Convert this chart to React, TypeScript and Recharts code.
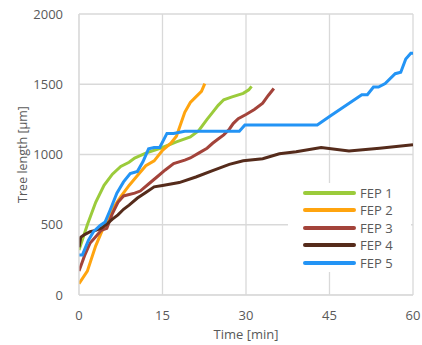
import React from "react"
import { LineChart, Line, XAxis, YAxis, CartesianGrid, Legend } from "recharts"

// time [min], tree length [µm]
const fep1: [number, number][] = [
  [0, 320], [1.5, 500], [3, 660], [4.5, 780], [6, 860], [7.5, 915], [9, 945], [10, 975],
  [12, 1010], [15, 1050], [17.5, 1090], [20, 1125], [21.5, 1170], [23, 1250], [24, 1300],
  [25, 1350], [26, 1390], [27.5, 1410], [29.5, 1435], [30.5, 1460], [31, 1485],
]
const fep2: [number, number][] = [
  [0, 80], [1.5, 170], [3, 350], [4.5, 490], [6, 610], [7.5, 700], [9, 780], [10.5, 850],
  [12, 920], [13.5, 955], [15, 1030], [16.5, 1080], [17.5, 1130], [18.3, 1220], [19, 1300],
  [20, 1370], [21, 1410], [22, 1450], [22.6, 1505],
]
const fep3: [number, number][] = [
  [0, 170], [1, 280], [2, 370], [3, 415], [4, 460], [5, 475], [6, 580], [7, 660], [8, 705],
  [10, 725], [11, 740], [12.5, 790], [14, 840], [15.5, 890], [17, 935], [19, 960], [20, 975],
  [21.5, 1010], [23, 1045], [24, 1080], [25, 1110], [26, 1140], [27, 1180], [27.7, 1220],
  [28.6, 1255], [30, 1285], [31.5, 1320], [33, 1365], [34, 1420], [35, 1470],
]
const fep4: [number, number][] = [
  [0, 340], [0.3, 410], [1, 430], [2, 450], [3, 460], [4, 475], [5, 505], [6, 540], [7, 570],
  [8, 610], [9, 640], [10.5, 690], [12, 730], [13.5, 770], [15, 780], [18, 800], [21, 840],
  [24, 885], [27, 930], [29.5, 955], [33, 970], [36, 1005], [39, 1020], [43.5, 1050],
  [48.5, 1025], [54, 1045], [60, 1070],
]
const fep5: [number, number][] = [
  [0, 285], [0.6, 285], [1.7, 390], [2.6, 450], [3.8, 495], [4.7, 520], [5.6, 605], [6.8, 725],
  [8, 805], [9.2, 865], [10.5, 880], [11.5, 950], [12.5, 1040], [13.5, 1050], [14.5, 1050],
  [15.8, 1150], [17, 1150], [19, 1165], [28.8, 1165], [29.8, 1210], [42.8, 1210], [45, 1270],
  [48, 1350], [50.8, 1425], [51.8, 1425], [52.9, 1480], [53.8, 1480], [55, 1505], [56.8, 1575],
  [57.8, 1585], [58.7, 1680], [59.6, 1720], [60, 1720],
]

const xTicks = [0, 15, 30, 45, 60]
const yTicks = [0, 500, 1000, 1500, 2000]

const series = [
  { name: "FEP 1", color: "#9BCB3B", data: fep1 },
  { name: "FEP 2", color: "#FFA40F", data: fep2 },
  { name: "FEP 3", color: "#A3433A", data: fep3 },
  { name: "FEP 4", color: "#552B1B", data: fep4 },
  { name: "FEP 5", color: "#2394F5", data: fep5 },
]

const font = "'Open Sans', sans-serif"
const textColor = "#595959"

function LegendBox() {
  return (
    <div style={{ background: "#fff", width: 123, height: 89, paddingTop: 1, boxSizing: "border-box" }}>
      {series.map((s) => (
        <div key={s.name} style={{ display: "flex", alignItems: "center", height: 17.5, marginLeft: 15 }}>
          <div style={{ width: 53, height: 4, borderRadius: 2, background: s.color }} />
          <span style={{ marginLeft: 4, fontFamily: font, fontSize: 13, color: textColor }}>{s.name}</span>
        </div>
      ))}
    </div>
  )
}

export default function App() {
  return (
    <div style={{ position: "absolute", left: 0, top: 0 }}>
      <LineChart width={422} height={345} margin={{ top: 14, right: 9, left: 10, bottom: 0 }}>
        <CartesianGrid stroke="#d9d9d9" strokeWidth={1.3} />
        <XAxis
          type="number"
          dataKey="0"
          domain={[0, 60]}
          ticks={xTicks}
          allowDataOverflow
          height={50}
          tickLine={false}
          tickSize={0}
          tickMargin={16}
          axisLine={{ stroke: "#d9d9d9" }}
          tick={{ fill: textColor, fontFamily: font, fontSize: 13 }}
          label={{ value: "Time [min]", position: "insideBottom", offset: 6, fill: textColor, fontFamily: font, fontSize: 13 }}
        />
        <YAxis
          type="number"
          domain={[0, 2000]}
          ticks={yTicks}
          width={69}
          tickLine={false}
          tickSize={0}
          tickMargin={16}
          axisLine={{ stroke: "#d9d9d9" }}
          tick={{ fill: textColor, fontFamily: font, fontSize: 13 }}
          label={{
            value: "Tree length [µm]",
            angle: -90,
            position: "insideLeft",
            offset: 13,
            fill: textColor,
            fontFamily: font,
            fontSize: 12.5,
            style: { textAnchor: "middle" },
          }}
        />
        <Legend
          layout="vertical"
          align="center"
          verticalAlign="middle"
          content={<LegendBox />}
          wrapperStyle={{ position: "absolute", left: 288, top: 183, width: 123, height: 89 }}
        />
        {series.map((s) => (
          <Line
            key={s.name}
            name={s.name}
            data={s.data}
            dataKey="1"
            type="linear"
            stroke={s.color}
            strokeWidth={3}
            dot={false}
            isAnimationActive={false}
          />
        ))}
      </LineChart>
    </div>
  )
}
